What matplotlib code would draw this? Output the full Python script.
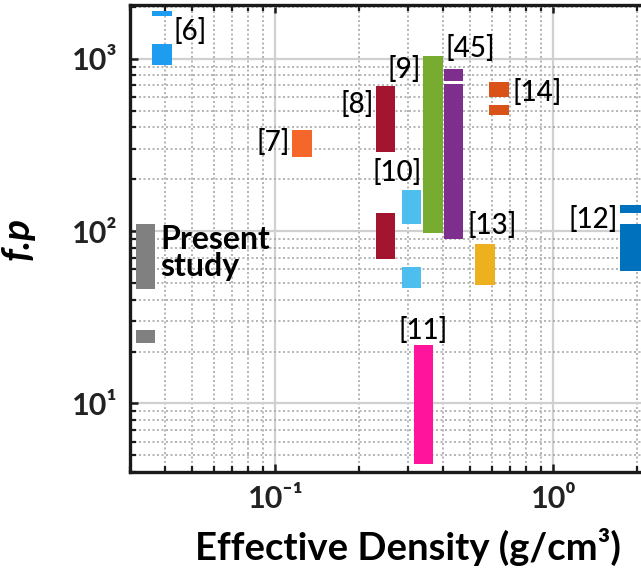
import matplotlib
matplotlib.use('Agg')
import matplotlib.pyplot as plt
from matplotlib.ticker import FixedLocator, FixedFormatter, LogLocator, NullFormatter

# ---- data ----
seg_ref = ['Present study', 'Present study', '[6]', '[6]', '[7]', '[8]', '[8]',
           '[10]', '[10]', '[9]', '[45]', '[45]', '[11]', '[13]', '[14]', '[14]',
           '[12]', '[12]']
seg_x_lo = [0.0316, 0.0316, 0.0361, 0.0361, 0.115, 0.231, 0.231,
            0.286, 0.286, 0.340, 0.405, 0.405, 0.316, 0.524, 0.589, 0.589,
            1.74, 1.74]
seg_x_hi = [0.0370, 0.0370, 0.0426, 0.0426, 0.136, 0.270, 0.270,
            0.335, 0.335, 0.402, 0.475, 0.475, 0.370, 0.618, 0.695, 0.695,
            2.06, 2.06]
seg_y_lo = [46, 22.3, 1780, 920, 270, 288, 69,
            110, 47, 97, 745, 90, 4.48, 48.5, 601, 472,
            127, 58.5]
seg_y_hi = [110, 26.5, 1900, 1220, 385, 697, 127,
            173, 62, 1040, 875, 716, 21.7, 84, 735, 541,
            142, 110]

ref_names = ['Present study', '[6]', '[7]', '[8]', '[9]', '[45]', '[10]',
             '[11]', '[13]', '[14]', '[12]']
ref_colors = ['#808080', '#1E9CF0', '#F5662A', '#A2142F', '#77AC30', '#7E2F8E',
              '#4DBEEE', '#FF149B', '#EDB120', '#D95319', '#0072BD']

label_text = ['[6]', '[7]', '[8]', '[9]', '[45]', '[10]', '[14]', '[13]', '[12]',
              '[11]', 'Present\nstudy']
label_x = [0.043, 0.113, 0.227, 0.335, 0.409, 0.337, 0.712, 0.491, 1.71, 0.340, 0.0386]
label_y = [1436, 325, 541, 863, 1143, 219, 634, 108, 117, 26.6, 74.5]
label_ha = ['left', 'right', 'right', 'right', 'left', 'right', 'left', 'left',
            'right', 'center', 'left']

x_ticks = [0.1, 1.0]
x_ticklabels = ['10⁻¹', '10⁰']
y_ticks = [10, 100, 1000]
y_ticklabels = ['10¹', '10²', '10³']

# ---- style ----
plt.rcParams['font.family'] = ['Lato', 'DejaVu Sans']

W, H = 641, 571
fig = plt.figure(figsize=(W / 100, H / 100), dpi=100)
left_px, right_px, top_px, bottom_px = 130, 686, 5, 472
ax = fig.add_axes([left_px / W, 1 - bottom_px / H,
                   (right_px - left_px) / W, (bottom_px - top_px) / H])
ax.set_xscale('log')
ax.set_yscale('log')
ax.set_xlim(0.03, 3.0)
ax.set_ylim(4, 2050)

color_of = dict(zip(ref_names, ref_colors))
widths = [hi - lo for lo, hi in zip(seg_x_lo, seg_x_hi)]
heights = [hi - lo for lo, hi in zip(seg_y_lo, seg_y_hi)]
ax.bar(seg_x_lo, heights, width=widths, bottom=seg_y_lo, align='edge',
       color=[color_of[r] for r in seg_ref], edgecolor='none', zorder=3)

for t, x, y, ha in zip(label_text, label_x, label_y, label_ha):
    if t.startswith('Present'):
        ax.text(x, y, t, ha=ha, va='center', fontsize=23, fontweight='bold',
                color='#000000', linespacing=0.9, zorder=4)
    else:
        ax.text(x, y, t, ha=ha, va='center', fontsize=20, fontweight='medium',
                color='#000000', zorder=4)

# ticks & grid
ax.set_axisbelow(True)
ax.xaxis.set_major_locator(FixedLocator(x_ticks))
ax.yaxis.set_major_locator(FixedLocator(y_ticks))
ax.xaxis.set_major_formatter(FixedFormatter(x_ticklabels))
ax.yaxis.set_major_formatter(FixedFormatter(y_ticklabels))
ax.xaxis.set_minor_locator(LogLocator(base=10, subs=[2, 3, 4, 5, 6, 7, 8, 9]))
ax.yaxis.set_minor_locator(LogLocator(base=10, subs=[2, 3, 4, 5, 6, 7, 8, 9]))
ax.xaxis.set_minor_formatter(NullFormatter())
ax.yaxis.set_minor_formatter(NullFormatter())
ax.grid(which='major', color='#d0d0d0', linewidth=1.6, linestyle='-')
ax.grid(which='minor', color='#a8a8a8', linewidth=1.2, linestyle=(0, (1.2, 1.5)))

for s in ax.spines.values():
    s.set_linewidth(2.4)
    s.set_color('#1a1a1a')
ax.tick_params(which='both', direction='in', top=True, right=True, color='#1a1a1a')
ax.tick_params(which='major', length=6, width=1.8, labelsize=22, labelcolor='#222222', pad=9)
ax.tick_params(which='minor', length=4, width=1.6)

ax.set_xlabel('Effective Density (g/cm³)', fontsize=27.5, fontweight='bold',
              color='#000000', labelpad=11)
ax.set_ylabel('f.p', fontsize=28, fontweight='bold', fontstyle='italic', color='#000000')
ax.yaxis.set_label_coords(-0.172, 0.5)

fig.canvas.draw()
for tick in ax.xaxis.get_major_ticks() + ax.yaxis.get_major_ticks():
    tick.label1.set_fontweight('bold')

fig.savefig('out.png', dpi=100)
